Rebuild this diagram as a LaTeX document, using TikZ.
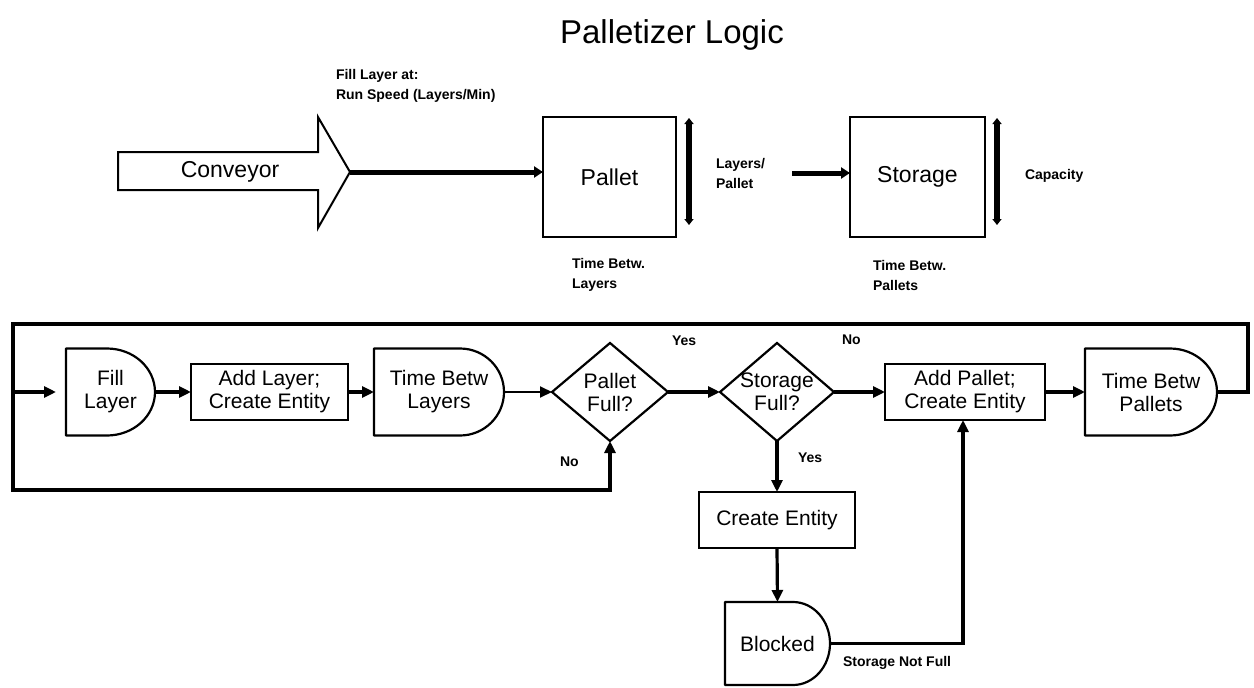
\documentclass[tikz,border=0pt]{standalone}
\usepackage{fontspec}
\setmainfont{Liberation Sans}
\usetikzlibrary{arrows.meta,calc}
\newcommand{\delayoutline}[2]{%
  \draw[line width=2.2pt, line join=round] let \p1=(#1.north east), \p2=(#1.south east), \n1={(\y1-\y2)/2} in
    (#1.south west) -- (#1.north west) -- ($(#1.north east)+(-#2,0)$)
    arc[start angle=90, end angle=-90, x radius=#2pt, y radius=\n1] -- cycle;}
\newcommand{\diamondoutline}[1]{%
  \draw[line width=2.2pt, line join=miter] (#1.north) -- (#1.east) -- (#1.south) -- (#1.west) -- cycle;}
\begin{document}
\begin{tikzpicture}[x=1pt,y=-1pt,
  every node/.style={inner sep=0pt, outer sep=0pt},
  bigtxt/.style={font=\fontsize{23}{26}\selectfont},
  flowtxt/.style={font=\fontsize{21}{23}\selectfont, align=center},
  small/.style={font=\fontsize{14}{20}\selectfont\bfseries, align=left, anchor=west},
  box/.style={draw, line width=2.2pt, flowtxt},
  conn/.style={line width=3.2pt, line join=miter, -{Triangle[length=12pt,width=11pt]}},
  heavy/.style={line width=5pt, -{Triangle[length=9pt,width=11pt]}},
  dbl/.style={line width=6.5pt, {Triangle[length=6pt,width=9pt]}-{Triangle[length=6pt,width=9pt]}},
]
\useasboundingbox (0,0) rectangle (1254,688);

% title
\node[font=\fontsize{33}{36}\selectfont] (title) at (672,35) {Palletizer Logic};

% ---------- top section ----------
\draw[line width=2pt, line join=miter] (118,152) -- (318,152) -- (318,117) -- (350,172) -- (318,228) -- (318,190) -- (118,190) -- cycle;
\node[bigtxt] (conv) at (230,172) {Conveyor};
\coordinate (convtip) at (350,172);

\node[small] (fillrate) at (336,86) {Fill Layer at:\\Run Speed (Layers/Min)};

\node[draw, line width=2.2pt, minimum width=133pt, minimum height=120pt, bigtxt] (pallet) at (609.5,177) {Pallet};
\draw[heavy] (convtip) -- (convtip -| pallet.west);

\coordinate (pa1) at (689,118);
\coordinate (pa2) at (689,225);
\draw[dbl] (pa1) -- (pa2);

\node[small] (lpp) at (716,173) {Layers/\\Pallet};
\node[small] (tbl1) at (572,275) {Time Betw.\\Layers};

\node[draw, line width=2.2pt, minimum width=135pt, minimum height=120pt, bigtxt] (storage) at (917.5,177) {Storage};
\coordinate (lp) at (792,173);
\draw[heavy] (lp) -- (lp -| storage.west);

\coordinate (sa1) at (997,118);
\coordinate (sa2) at (997,225);
\draw[dbl] (sa1) -- (sa2);

\node[small] (cap) at (1025,176) {Capacity};
\node[small] (tbp1) at (873,275) {Time Betw.\\Pallets};

% ---------- flow section ----------
\node[flowtxt, minimum width=89pt, minimum height=87pt] (fill) at (110.5,392) {Fill\\Layer};
\delayoutline{fill}{48}
\node[box, minimum width=157pt, minimum height=56pt] (addlayer) at (269.5,392) {Add Layer;\\Create Entity};
\node[flowtxt, minimum width=130pt, minimum height=87pt] (tbl) at (439,392) {Time Betw\\Layers};
\delayoutline{tbl}{44}
\node[flowtxt, minimum width=116pt, minimum height=98pt] (pf) at (610,392) {Pallet\\Full?};
\diamondoutline{pf}
\node[flowtxt, minimum width=114pt, minimum height=98pt] (sf) at (777,392) {Storage\\Full?};
\diamondoutline{sf}
\node[box, minimum width=160pt, minimum height=56pt] (addpallet) at (965,392) {Add Pallet;\\Create Entity};
\node[flowtxt, minimum width=132pt, minimum height=87pt] (tbp) at (1151,392) {Time Betw\\Pallets};
\delayoutline{tbp}{47}
\node[box, minimum width=156pt, minimum height=56pt] (create) at (777,520) {Create Entity};
\node[flowtxt, minimum width=105pt, minimum height=83pt] (blocked) at (777.5,643.5) {Blocked};
\delayoutline{blocked}{37}

\coordinate (rt) at (1248,324);
\coordinate (lt) at (13,324);
\coordinate (lb) at (13,490);
\coordinate (lin) at (13,392);

\draw[conn] (lin) -- ([xshift=-10pt]fill.west);
\draw[conn] (fill.east) -- (addlayer.west);
\draw[conn] (addlayer.east) -- (tbl.west);
\draw[conn, line width=2pt] (tbl.east) -- (pf.west);
\draw[conn] (pf.east) -- (sf.west);
\draw[conn] (sf.east) -- (addpallet.west);
\draw[conn] (addpallet.east) -- (tbp.west);
\draw[conn] (tbp.east) -| (rt) -- (lt) -- (lb) -| (pf.south);
\draw[conn] (sf.south) -- (create.north);
\draw[conn] (create.south) -- (blocked.north);
\draw[conn] (blocked.east) -| ([xshift=-2pt]addpallet.south);

\node[small] (yes1) at (672,341) {Yes};
\node[small] (no1) at (842,340) {No};
\node[small] (no2) at (560,462) {No};
\node[small] (yes2) at (798,458) {Yes};
\node[small] (snf) at (843,663) {Storage Not Full};
\end{tikzpicture}
\end{document}
